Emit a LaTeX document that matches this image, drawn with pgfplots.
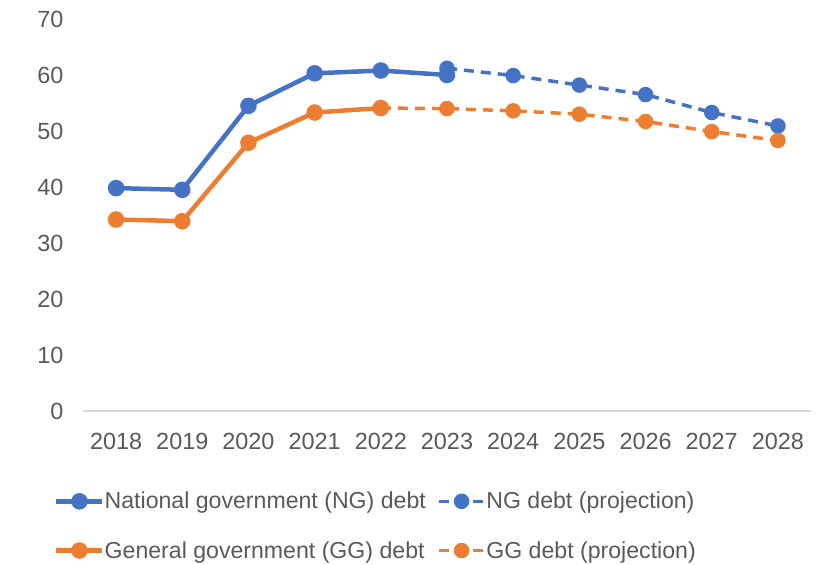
\documentclass[border=0pt]{standalone}
\usepackage{fontspec}
\setmainfont{Liberation Sans}
\usepackage{pgfplots}
\pgfplotsset{compat=1.18}
\definecolor{ngblue}{HTML}{4472C4}
\definecolor{ggorange}{HTML}{ED7D31}
\definecolor{txtgray}{HTML}{595959}
\definecolor{axgray}{HTML}{D9D9D9}
\begin{document}
\begin{tikzpicture}
\path[use as bounding box] (0,0) rectangle (828bp,565bp);
\begin{axis}[
  at={(83bp,154bp)}, anchor=south west,
  scale only axis, width=728bp, height=392bp,
  xmin=-0.5, xmax=10.5, ymin=0, ymax=70,
  xtick={0,...,10},
  xticklabels={2018,2019,2020,2021,2022,2023,2024,2025,2026,2027,2028},
  ytick={0,10,...,70},
  axis x line*=bottom, axis y line*=left,
  x axis line style={draw=axgray, line width=1.2bp, -},
  y axis line style={draw=none},
  major tick length=0pt,
  tick style={draw=none},
  /pgf/number format/assume math mode=true,
  ticklabel style={font=\fontsize{23.5}{27}\selectfont, text=txtgray},
  yticklabel style={xshift=-16bp},
  xticklabel style={yshift=-19bp},
  clip=false,
  legend columns=2,
  legend style={at={(-29bp,-79bp)}, anchor=north west, draw=none, fill=none,
    font=\fontsize{23.2}{27}\selectfont, text=txtgray,
    /tikz/every even column/.append style={column sep=9bp},
    /tikz/every odd column/.append style={column sep=-2bp},
    row sep=27bp, inner sep=0pt},
  legend cell align=left,
  legend image code/.code={%
    \draw[#1, mark=none] (0bp,0bp) -- (46bp,0bp);
    \draw[#1, solid] plot coordinates {(23bp,0bp)};},
]
\addplot[ngblue, line width=4.5bp, mark=*, mark size=6bp, mark options={solid, fill=ngblue}]
  coordinates {(0,39.8) (1,39.5) (2,54.5) (3,60.3) (4,60.8) (5,60.0)};
\addlegendentry{National government (NG) debt}
\addplot[ngblue, line width=3.5bp, dash pattern=on 10bp off 7bp, mark=*, mark size=6bp, mark options={solid, fill=ngblue}]
  coordinates {(5,61.2) (6,59.9) (7,58.2) (8,56.5) (9,53.3) (10,50.9)};
\addlegendentry{NG debt (projection)}
\addplot[ggorange, line width=4.5bp, mark=*, mark size=6bp, mark options={solid, fill=ggorange}]
  coordinates {(0,34.2) (1,33.9) (2,47.9) (3,53.3) (4,54.1)};
\addlegendentry{General government (GG) debt}
\addplot[ggorange, line width=3.5bp, dash pattern=on 10bp off 7bp, mark=*, mark size=6bp, mark options={solid, fill=ggorange}]
  coordinates {(4,54.1) (5,54.0) (6,53.6) (7,53.0) (8,51.7) (9,49.9) (10,48.3)};
\addlegendentry{GG debt (projection)}
\end{axis}
\end{tikzpicture}
\end{document}
